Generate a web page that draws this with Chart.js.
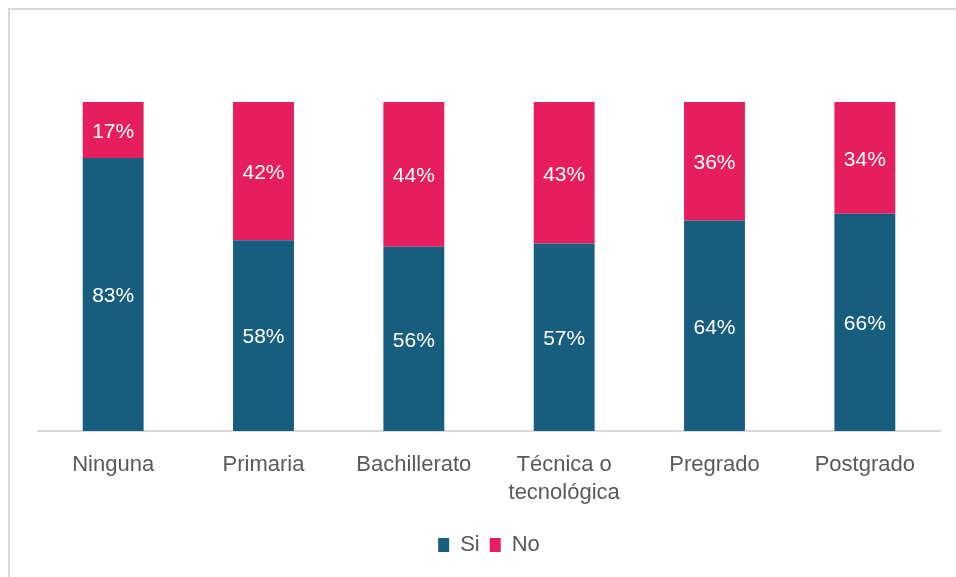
<!DOCTYPE html>
<html>
<head>
<meta charset="utf-8">
<script src="https://cdn.jsdelivr.net/npm/chart.js@4"></script>
<style>
  body { margin: 0; background: #fff; overflow: hidden; }
  .marco { position: absolute; left: 8px; top: 8px; width: 1000px; height: 700px; border: 2px solid #D9D9D9; box-sizing: border-box; }
  #grafico { position: absolute; left: 0; top: 0; }
</style>
</head>
<body>
<div class="marco"></div>
<canvas id="grafico" width="956" height="577"></canvas>
<script>
const categorias = ["Ninguna", "Primaria", "Bachillerato", ["Técnica o", "tecnológica"], "Pregrado", "Postgrado"];
const valoresSi = [83, 58, 56, 57, 64, 66];
const valoresNo = [17, 42, 44, 43, 36, 34];

const azul = "#175E7E";
const rosa = "#E61E5E";
const grisTexto = "#595959";

// etiquetas blancas en el centro de cada segmento
const etiquetasPlugin = {
    id: "etiquetas",
    afterDatasetsDraw(chart) {
        const ctx = chart.ctx;
        ctx.save();
        ctx.fillStyle = "#FFFFFF";
        ctx.font = "21px 'Liberation Sans', Arial, sans-serif";
        ctx.textAlign = "center";
        ctx.textBaseline = "middle";
        chart.data.datasets.forEach((ds, i) => {
            const meta = chart.getDatasetMeta(i);
            meta.data.forEach((bar, j) => {
                const { x, y, base } = bar.getProps(["x", "y", "base"], true);
                ctx.fillText(ds.data[j] + "%", x, (y + base) / 2 + 2);
            });
        });
        ctx.restore();
    }
};

const config = {
    type: "bar",
    data: {
        labels: categorias,
        datasets: [
            { label: "Si", data: valoresSi, backgroundColor: azul, barPercentage: 0.405, categoryPercentage: 1 },
            { label: "No", data: valoresNo, backgroundColor: rosa, barPercentage: 0.405, categoryPercentage: 1 }
        ]
    },
    options: {
        responsive: false,
        animation: false,
        layout: { padding: { left: 38, right: 16, top: 102, bottom: 11 } },
        scales: {
            x: {
                stacked: true,
                grid: { display: false },
                border: { color: "#D9D9D9", width: 2 },
                ticks: {
                    color: grisTexto,
                    padding: 12,
                    maxRotation: 0,
                    font: { family: "'Liberation Sans', Arial, sans-serif", size: 22, lineHeight: 1.27 }
                },
                afterFit(axis) { axis.height = 93; }
            },
            y: { stacked: true, display: false, min: 0, max: 100 }
        },
        plugins: {
            legend: {
                position: "bottom",
                labels: {
                    boxWidth: 11,
                    boxHeight: 14,
                    padding: 10,
                    color: grisTexto,
                    font: { family: "'Liberation Sans', Arial, sans-serif", size: 22 }
                }
            },
            tooltip: { enabled: false }
        }
    },
    plugins: [etiquetasPlugin]
};

new Chart(document.getElementById("grafico"), config);
</script>
</body>
</html>
